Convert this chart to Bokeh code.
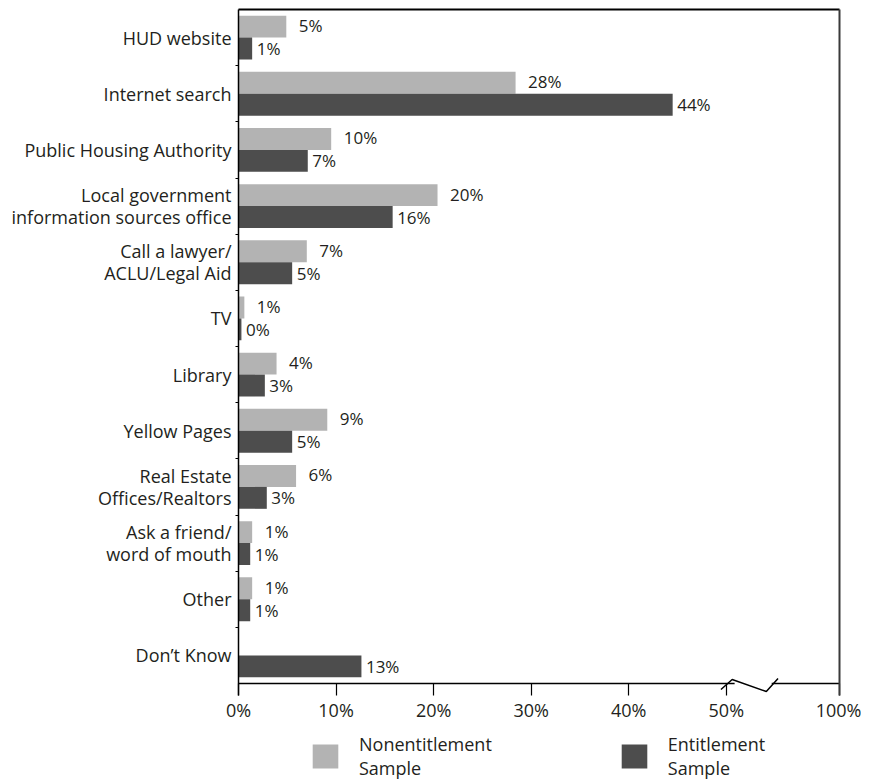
from bokeh.plotting import figure
from bokeh.models import (Range1d, FixedTicker, LinearAxis, Legend, LegendItem,
                          ColumnDataSource)
from bokeh.layouts import column
from bokeh.core.properties import value
from bokeh.embed import file_html
from bokeh.resources import INLINE

# ---------------- data ----------------
categories = ["HUD website", "Internet search", "Public Housing Authority",
              "Local government\ninformation sources office",
              "Call a lawyer/\nACLU/Legal Aid", "TV", "Library", "Yellow Pages",
              "Real Estate\nOffices/Realtors", "Ask a friend/\nword of mouth",
              "Other", "Don\u2019t Know"]
nonentitlement = [4.9, 28.4, 9.5, 20.4, 7.0, 0.6, 3.9, 9.1, 5.9, 1.4, 1.4, 0.0]
entitlement = [1.4, 44.5, 7.1, 15.8, 5.5, 0.3, 2.7, 5.5, 2.9, 1.2, 1.2, 12.6]
nonentitlement_labels = ["5%", "28%", "10%", "20%", "7%", "1%", "4%", "9%", "6%", "1%", "1%", ""]
entitlement_labels = ["1%", "44%", "7%", "16%", "5%", "0%", "3%", "5%", "3%", "1%", "1%", "13%"]
tick_values = [0, 10, 20, 30, 40, 50, 61.6]
tick_labels = ["0%", "10%", "20%", "30%", "40%", "50%", "100%"]
series_names = ["Nonentitlement\nSample", "Entitlement\nSample"]

LIGHT = "#b3b3b3"
DARK = "#4d4d4d"
TXT = "#231f20"
FONT = "Open Sans"
BH = 0.39
PX = 1 / 56.17          # one pixel in row units
BASE = 11.5             # baseline of the value axis (row units)
EXT = 12 * PX           # frame extends below baseline (tick length)
XMAX = 61.6             # where the "100%" tick sits after the break
BREAK_L, BREAK_R = 50.85, 54.65
W = 861

n = len(categories)
rows = list(range(n))
src = ColumnDataSource(dict(
    yl=[r - BH / 2 for r in rows],
    yd=[r + BH / 2 for r in rows],
    nonent=nonentitlement, ent=entitlement,
    nl=nonentitlement_labels, el=entitlement_labels,
))

p = figure(width=W, height=725,
           x_range=Range1d(0, XMAX), y_range=Range1d(BASE + EXT, -0.5),
           output_backend="svg", toolbar_location=None,
           min_border_left=238, min_border_right=22, min_border_top=9,
           min_border_bottom=30)
p.xgrid.visible = False
p.ygrid.visible = False
p.outline_line_color = None

r1 = p.hbar(y="yl", height=BH, left=0, right="nonent", fill_color=LIGHT,
            line_color=None, source=src)
r2 = p.hbar(y="yd", height=BH, left=0, right="ent", fill_color=DARK,
            line_color=None, source=src)

p.text(x="nonent", y="yl", text="nl", x_offset=12.5, y_offset=-1,
       text_baseline="middle", text_align="left", text_font=value(FONT),
       text_font_size="17px", text_color=TXT, source=src)
p.text(x="ent", y="yd", text="el", x_offset=4.5,
       text_baseline="middle", text_align="left", text_font=value(FONT),
       text_font_size="17px", text_color=TXT, source=src)

# broken baseline with zigzag
p.segment(x0=[0, BREAK_R], y0=[BASE, BASE], x1=[BREAK_L, XMAX], y1=[BASE, BASE],
          line_color="black", line_width=1.5)
p.line(x=[49.45, 50.6, 54.1, 55.3],
       y=[BASE + 6 * PX, BASE - 4 * PX, BASE + 8 * PX, BASE - 5 * PX],
       line_color="black", line_width=1.5)

# y axis (categories)
ya = p.yaxis[0]
ya.ticker = FixedTicker(ticks=rows, minor_ticks=[r + 0.5 for r in rows[:-1]])
ya.major_label_overrides = {r: categories[r] for r in rows}
ya.major_tick_line_color = None
ya.major_tick_out = 0
ya.major_tick_in = 0
ya.minor_tick_out = 3
ya.minor_tick_in = 0
ya.minor_tick_line_color = "black"
ya.axis_line_color = "black"
ya.axis_line_width = 1.5
ya.major_label_standoff = 4
ya.major_label_text_font = FONT
ya.major_label_text_font_size = "18px"
ya.major_label_text_line_height = 0.9
ya.major_label_text_color = TXT

# x axis (ticks reach up to the drawn baseline)
xa = p.xaxis[0]
xa.ticker = FixedTicker(ticks=tick_values, minor_ticks=[])
xa.major_label_overrides = {t: l for t, l in zip(tick_values, tick_labels)}
xa.axis_line_color = None
xa.major_tick_out = 0
xa.major_tick_in = 12
xa.major_tick_line_color = "black"
xa.major_tick_line_width = 1.2
xa.minor_tick_line_color = None
xa.major_label_standoff = 2
xa.major_label_text_font = FONT
xa.major_label_text_font_size = "18px"
xa.major_label_text_color = TXT

# top and right borders
top = LinearAxis(ticker=FixedTicker(ticks=[]), axis_line_color="black", axis_line_width=2,
                 major_label_text_font_size="0px", major_tick_line_color=None,
                 minor_tick_line_color=None)
p.add_layout(top, "above")
right = LinearAxis(ticker=FixedTicker(ticks=[]), axis_line_color="#3a3a3a", axis_line_width=2,
                   major_label_text_font_size="0px", major_tick_line_color=None,
                   minor_tick_line_color=None)
p.add_layout(right, "right")

# ---------------- legend strip ----------------
p2 = figure(width=W, height=55, x_range=Range1d(0, 1), y_range=Range1d(0, 1),
            output_backend="svg", toolbar_location=None,
            x_axis_type=None, y_axis_type=None, min_border=0)
p2.xgrid.visible = False
p2.ygrid.visible = False
p2.outline_line_color = None
# swatch renderers (their single bar lies outside the visible range)
lr1 = p2.hbar(y=[-10], height=0.1, left=-10, right=[-9], fill_color=LIGHT, line_color=None)
lr2 = p2.hbar(y=[-10], height=0.1, left=-10, right=[-9], fill_color=DARK, line_color=None)
lg = Legend(items=[LegendItem(label=series_names[0], renderers=[lr1]),
                   LegendItem(label=series_names[1], renderers=[lr2])],
            location=(71, 0), orientation="horizontal",
            glyph_width=32, glyph_height=30, label_standoff=18,
            padding=0, margin=0, spacing=126,
            border_line_color=None, background_fill_alpha=0,
            label_text_font=FONT, label_text_font_size="18px",
            label_text_line_height=0.9, label_text_color=TXT)
p2.add_layout(lg)

open("out.html", "w").write(file_html(column(p, p2, spacing=0), INLINE))
